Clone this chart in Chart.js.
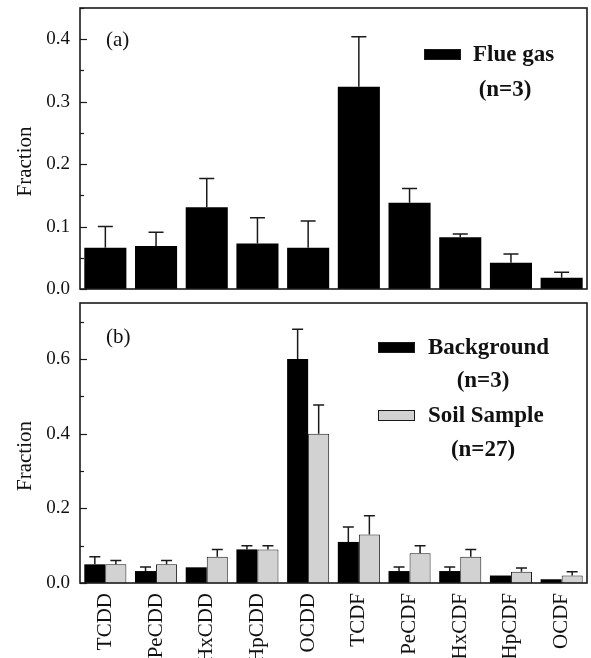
<!DOCTYPE html>
<html>
<head>
<meta charset="utf-8">
<script src="https://cdn.jsdelivr.net/npm/chart.js@4.4.1/dist/chart.umd.min.js"></script>
<style>
  html, body { margin: 0; padding: 0; background: #fff; }
  #wrapA { position: absolute; left: 0; top: 0; width: 591px; height: 296px; }
  #wrapB { position: absolute; left: 0; top: 296px; width: 591px; height: 362px; }
</style>
</head>
<body>
<div id="wrapA"><canvas id="chartA"></canvas></div>
<div id="wrapB"><canvas id="chartB"></canvas></div>
<script>
// congener groups
const congeners = ["TCDD", "PeCDD", "HxCDD", "HpCDD", "OCDD", "TCDF", "PeCDF", "HxCDF", "HpCDF", "OCDF"];

// (a) flue gas, mean and upper error
const flueGas    = [0.066, 0.069, 0.131, 0.073, 0.066, 0.324, 0.138, 0.083, 0.042, 0.018];
const flueGasErr = [0.034, 0.022, 0.046, 0.041, 0.043, 0.080, 0.023, 0.005, 0.014, 0.009];

// (b) background and soil samples
const background    = [0.050, 0.032, 0.042, 0.090, 0.600, 0.110, 0.032, 0.032, 0.020, 0.010];
const backgroundErr = [0.020, 0.011, 0.000, 0.010, 0.080, 0.040, 0.011, 0.011, 0.000, 0.000];
const soil    = [0.050, 0.050, 0.070, 0.090, 0.400, 0.130, 0.080, 0.070, 0.030, 0.020];
const soilErr = [0.010, 0.010, 0.020, 0.010, 0.077, 0.050, 0.020, 0.020, 0.010, 0.010];

const yTicksA = [0, 0.1, 0.2, 0.3, 0.4];
const yTicksB = [0, 0.2, 0.4, 0.6];
const yTitle = "Fraction";

const serif = "'Liberation Serif', 'Times New Roman', serif";
Chart.defaults.font.family = serif;
Chart.defaults.color = "#111";

function noPad(s) {
  s.paddingTop = 0; s.paddingBottom = 0; s.paddingLeft = 0; s.paddingRight = 0;
}

// frame, inward y ticks, error bars, axis title, legend text
function panelPlugin(cfg) {
  return {
    id: "panel",
    afterDatasetsDraw(chart) {
      const { ctx, chartArea: a, scales: { y } } = chart;
      ctx.save();
      ctx.strokeStyle = "#1a1a1a";

      // error bars (upper only)
      ctx.lineWidth = 1.5;
      chart.data.datasets.forEach((ds, i) => {
        const meta = chart.getDatasetMeta(i);
        ds.errors.forEach((e, j) => {
          if (!e) return;
          const bar = meta.data[j];
          const y0 = y.getPixelForValue(ds.data[j]);
          const y1 = y.getPixelForValue(ds.data[j] + e);
          ctx.beginPath();
          ctx.moveTo(bar.x, y0);
          ctx.lineTo(bar.x, y1);
          ctx.moveTo(bar.x - cfg.cap / 2, y1);
          ctx.lineTo(bar.x + cfg.cap / 2, y1);
          ctx.stroke();
        });
      });

      // frame
      ctx.lineWidth = 1.6;
      ctx.strokeRect(a.left, a.top, a.right - a.left, a.bottom - a.top);

      // inward ticks, major and minor
      ctx.lineWidth = 1.2;
      const step = cfg.step / 2;
      for (let k = 0; k * step <= y.max + 1e-9; k++) {
        const py = Math.round(y.getPixelForValue(k * step)) + 0.5;
        const len = k % 2 === 0 ? 7 : 4;
        ctx.beginPath();
        ctx.moveTo(a.left, py);
        ctx.lineTo(a.left + len, py);
        ctx.stroke();
      }

      ctx.fillStyle = "#111";
      ctx.textBaseline = "middle";

      // y axis title, sits a little below the panel middle
      ctx.save();
      ctx.translate(25, (a.top + a.bottom) / 2 + 13);
      ctx.rotate(-Math.PI / 2);
      ctx.textAlign = "center";
      ctx.font = "21px " + serif;
      ctx.fillText(yTitle, 0, 0);
      ctx.restore();

      // panel tag
      ctx.font = "21px " + serif;
      ctx.fillText(cfg.tag, a.left + 26, a.top + cfg.tagDy);

      // legend
      ctx.font = "bold 23px " + serif;
      cfg.legend.forEach((item, i) => {
        const ds = chart.data.datasets[i];
        const bx = a.right + item.boxDx, by = a.top + item.boxDy;
        ctx.fillStyle = ds.backgroundColor;
        ctx.fillRect(bx, by, 37, 11);
        ctx.lineWidth = 1;
        ctx.strokeRect(bx + 0.5, by + 0.5, 36, 10);
        ctx.fillStyle = "#111";
        ctx.textAlign = "left";
        ctx.fillText(ds.label, a.right + item.textDx, by + 6);
        ctx.textAlign = "center";
        ctx.fillText(item.n, a.right + item.nDx, a.top + item.nDy);
      });
      ctx.restore();
    }
  };
}

function yScale(max, ticksList) {
  return {
    min: 0,
    max: max,
    afterBuildTicks: s => { s.ticks = ticksList.map(v => ({ value: v })); },
    afterFit: s => { s.width = 80; noPad(s); },
    grid: { display: false, drawTicks: false },
    border: { display: false },
    ticks: {
      padding: 10,
      font: { size: 19 },
      color: "#111",
      callback: v => Number(v).toFixed(1)
    }
  };
}

new Chart(document.getElementById("chartA"), {
  type: "bar",
  data: {
    labels: congeners,
    datasets: [{
      label: "Flue gas",
      data: flueGas,
      errors: flueGasErr,
      backgroundColor: "#000",
      borderWidth: 0,
      categoryPercentage: 0.83,
      barPercentage: 1
    }]
  },
  options: {
    responsive: true,
    maintainAspectRatio: false,
    animation: false,
    layout: { padding: { top: 8, right: 4, bottom: 7, left: 0 } },
    plugins: { legend: { display: false }, tooltip: { enabled: false } },
    scales: {
      x: { display: false, afterFit: noPad },
      y: yScale(0.45, yTicksA)
    }
  },
  plugins: [panelPlugin({
    cap: 15, step: 0.1, tag: "(a)", tagDy: 32,
    legend: [{ boxDx: -163, boxDy: 41, textDx: -114, n: "(n=3)", nDx: -82, nDy: 82 }]
  })]
});

new Chart(document.getElementById("chartB"), {
  type: "bar",
  data: {
    labels: congeners,
    datasets: [{
      label: "Background",
      data: background,
      errors: backgroundErr,
      backgroundColor: "#000",
      borderWidth: 0,
      categoryPercentage: 0.83,
      barPercentage: 1
    }, {
      label: "Soil Sample",
      data: soil,
      errors: soilErr,
      backgroundColor: "#d2d2d2",
      borderColor: "#1a1a1a",
      borderWidth: 1,
      categoryPercentage: 0.83,
      barPercentage: 1
    }]
  },
  options: {
    responsive: true,
    maintainAspectRatio: false,
    animation: false,
    layout: { padding: { top: 7, right: 4, bottom: 0, left: 0 } },
    plugins: { legend: { display: false }, tooltip: { enabled: false } },
    scales: {
      x: {
        afterFit: s => { s.height = 75; noPad(s); },
        grid: { display: false, drawTicks: false },
        border: { display: false },
        ticks: {
          autoSkip: false,
          minRotation: 90,
          maxRotation: 90,
          padding: 10,
          font: { size: 21 },
          color: "#111"
        }
      },
      y: yScale(0.75, yTicksB)
    }
  },
  plugins: [panelPlugin({
    cap: 11, step: 0.2, tag: "(b)", tagDy: 34,
    legend: [
      { boxDx: -209, boxDy: 39, textDx: -159, n: "(n=3)", nDx: -104, nDy: 78 },
      { boxDx: -209, boxDy: 107, textDx: -159, n: "(n=27)", nDx: -104, nDy: 147 }
    ]
  })]
});
</script>
</body>
</html>
